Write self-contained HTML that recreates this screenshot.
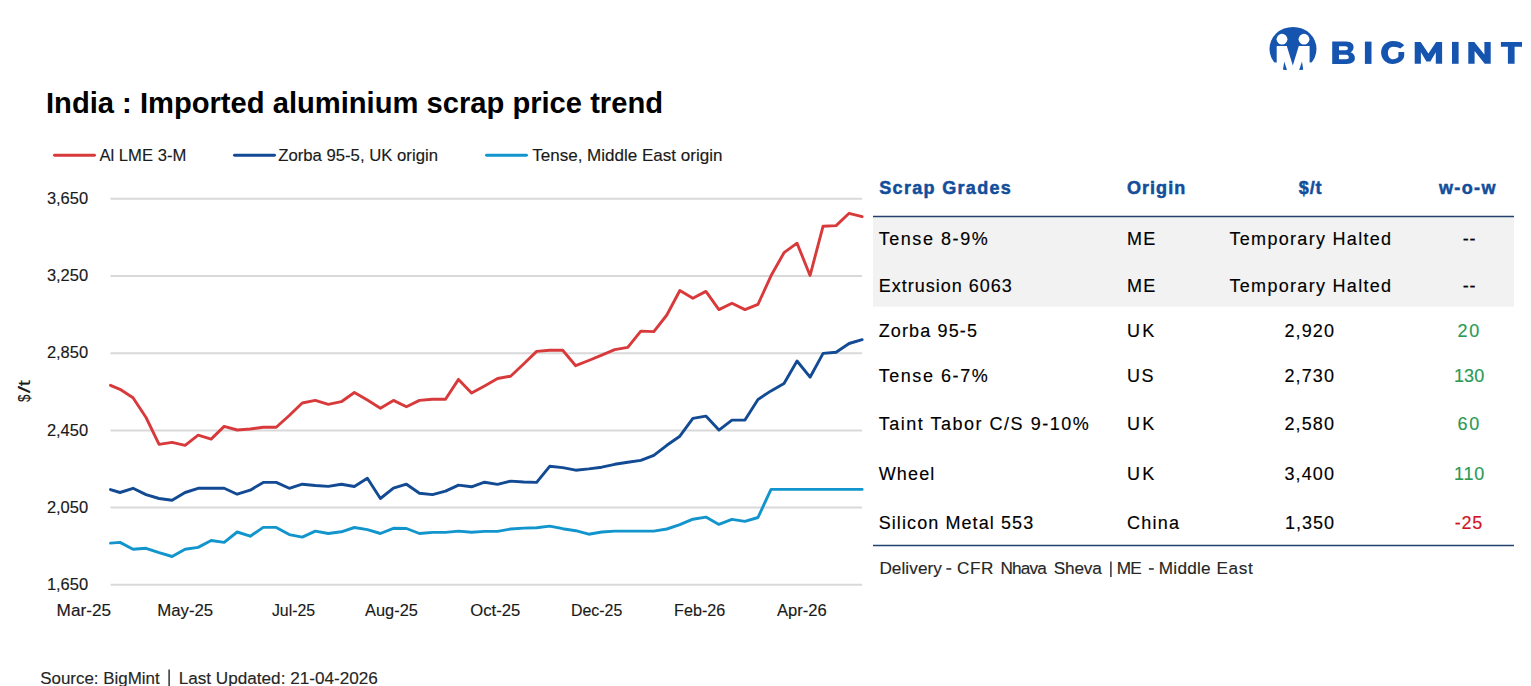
<!DOCTYPE html>
<html><head><meta charset="utf-8"><style>
html,body{margin:0;padding:0;background:#fff;width:1531px;height:686px;overflow:hidden}
svg{display:block}
text{font-family:"Liberation Sans",sans-serif}
</style></head><body>
<svg width="1531" height="686" viewBox="0 0 1531 686">
<line x1="110.5" y1="198.8" x2="862" y2="198.8" stroke="#D9D9D9" stroke-width="2"/>
<line x1="110.5" y1="276.0" x2="862" y2="276.0" stroke="#D9D9D9" stroke-width="2"/>
<line x1="110.5" y1="353.2" x2="862" y2="353.2" stroke="#D9D9D9" stroke-width="2"/>
<line x1="110.5" y1="430.4" x2="862" y2="430.4" stroke="#D9D9D9" stroke-width="2"/>
<line x1="110.5" y1="507.6" x2="862" y2="507.6" stroke="#D9D9D9" stroke-width="2"/>
<line x1="110.5" y1="584.8" x2="862" y2="584.8" stroke="#D9D9D9" stroke-width="2"/>
<polyline points="110.50,543.1 120.00,542.4 133.02,549.2 146.04,548.3 159.06,552.6 172.08,556.5 185.10,549.2 198.12,547.4 211.14,540.5 224.16,542.4 237.18,532.0 250.20,536.2 263.22,527.4 276.24,527.4 289.26,534.6 302.28,537.1 315.30,531.1 328.32,533.5 341.34,531.8 354.36,527.5 367.38,529.6 380.40,533.5 393.42,528.3 406.44,528.5 419.46,533.5 432.48,532.4 445.50,532.4 458.52,531.1 471.54,532.2 484.56,531.4 497.58,531.4 510.60,529.0 523.62,528.1 536.64,527.7 549.66,526.1 562.68,528.7 575.70,530.7 588.72,534.2 601.74,532.0 614.76,531.1 627.78,531.1 640.80,531.1 653.82,531.1 666.84,529.0 679.86,524.7 692.88,519.2 705.90,517.1 718.92,524.4 731.94,519.4 744.96,521.4 757.98,517.5 771.00,489.4 784.02,489.4 797.04,489.4 810.06,489.4 823.08,489.4 836.10,489.4 849.12,489.4 862.14,489.4" fill="none" stroke="#1295CD" stroke-width="2.9" stroke-linejoin="round" stroke-linecap="round"/>
<polyline points="110.50,489.6 120.00,492.5 133.02,488.3 146.04,494.6 159.06,498.5 172.08,500.3 185.10,492.5 198.12,488.3 211.14,488.3 224.16,488.3 237.18,494.2 250.20,490.2 263.22,482.4 276.24,482.4 289.26,488.3 302.28,484.2 315.30,485.5 328.32,486.4 341.34,484.2 354.36,486.5 367.38,478.3 380.40,498.5 393.42,488.1 406.44,484.2 419.46,493.3 432.48,494.6 445.50,491.1 458.52,485.1 471.54,486.8 484.56,482.2 497.58,484.4 510.60,481.1 523.62,482.0 536.64,482.4 549.66,466.3 562.68,467.6 575.70,470.2 588.72,468.9 601.74,467.2 614.76,464.3 627.78,462.3 640.80,460.4 653.82,455.4 666.84,445.3 679.86,436.2 692.88,418.4 705.90,416.1 718.92,430.1 731.94,420.1 744.96,420.1 757.98,399.5 771.00,390.9 784.02,383.4 797.04,361.0 810.06,377.2 823.08,353.4 836.10,352.3 849.12,343.5 862.14,339.7" fill="none" stroke="#124A93" stroke-width="2.9" stroke-linejoin="round" stroke-linecap="round"/>
<polyline points="110.50,385.3 120.00,389.3 133.02,397.8 146.04,417.5 159.06,444.4 172.08,442.4 185.10,445.3 198.12,435.2 211.14,439.1 224.16,426.4 237.18,430.0 250.20,429.0 263.22,427.3 276.24,427.3 289.26,415.5 302.28,403.0 315.30,400.4 328.32,404.3 341.34,401.7 354.36,392.5 367.38,400.1 380.40,408.2 393.42,400.4 406.44,406.7 419.46,400.4 432.48,399.3 445.50,399.3 458.52,379.4 471.54,393.1 484.56,385.9 497.58,378.5 510.60,376.2 523.62,364.0 536.64,351.4 549.66,350.3 562.68,350.3 575.70,365.7 588.72,360.5 601.74,355.2 614.76,349.6 627.78,347.4 640.80,331.1 653.82,331.6 666.84,315.0 679.86,290.5 692.88,298.2 705.90,291.4 718.92,309.6 731.94,303.3 744.96,309.6 757.98,304.3 771.00,275.8 784.02,252.7 797.04,243.2 810.06,275.5 823.08,226.2 836.10,225.6 849.12,213.3 862.14,216.7" fill="none" stroke="#D83A3C" stroke-width="2.9" stroke-linejoin="round" stroke-linecap="round"/>
<line x1="54.5" y1="155.3" x2="94.5" y2="155.3" stroke="#D83A3C" stroke-width="2.9" stroke-linecap="round"/>
<line x1="234.5" y1="155.3" x2="274.5" y2="155.3" stroke="#124A93" stroke-width="2.9" stroke-linecap="round"/>
<line x1="486.5" y1="155.3" x2="526.5" y2="155.3" stroke="#1295CD" stroke-width="2.9" stroke-linecap="round"/>
<text x="99.48" y="160.70" font-size="17.0" font-weight="normal" fill="#1A1A1A" stroke="#1A1A1A" stroke-width="0.15" stroke-linejoin="round" textLength="86.84" lengthAdjust="spacingAndGlyphs" >Al LME 3-M</text>
<text x="278.18" y="160.70" font-size="17.0" font-weight="normal" fill="#1A1A1A" stroke="#1A1A1A" stroke-width="0.15" stroke-linejoin="round" textLength="159.77" lengthAdjust="spacingAndGlyphs" >Zorba 95-5, UK origin</text>
<text x="532.18" y="160.70" font-size="17.0" font-weight="normal" fill="#1A1A1A" stroke="#1A1A1A" stroke-width="0.15" stroke-linejoin="round" textLength="190.33" lengthAdjust="spacingAndGlyphs" >Tense, Middle East origin</text>
<text x="46.00" y="113.00" font-size="30" font-weight="bold" fill="#000"  textLength="617.01" lengthAdjust="spacingAndGlyphs" >India : Imported aluminium scrap price trend</text>
<text x="46.88" y="204.00" font-size="17.0" font-weight="normal" fill="#1A1A1A" stroke="#1A1A1A" stroke-width="0.15" stroke-linejoin="round" textLength="41.24" lengthAdjust="spacingAndGlyphs" >3,650</text>
<text x="46.88" y="281.20" font-size="17.0" font-weight="normal" fill="#1A1A1A" stroke="#1A1A1A" stroke-width="0.15" stroke-linejoin="round" textLength="41.24" lengthAdjust="spacingAndGlyphs" >3,250</text>
<text x="46.88" y="358.40" font-size="17.0" font-weight="normal" fill="#1A1A1A" stroke="#1A1A1A" stroke-width="0.15" stroke-linejoin="round" textLength="41.24" lengthAdjust="spacingAndGlyphs" >2,850</text>
<text x="46.88" y="435.60" font-size="17.0" font-weight="normal" fill="#1A1A1A" stroke="#1A1A1A" stroke-width="0.15" stroke-linejoin="round" textLength="41.24" lengthAdjust="spacingAndGlyphs" >2,450</text>
<text x="46.88" y="512.80" font-size="17.0" font-weight="normal" fill="#1A1A1A" stroke="#1A1A1A" stroke-width="0.15" stroke-linejoin="round" textLength="41.24" lengthAdjust="spacingAndGlyphs" >2,050</text>
<text x="46.88" y="590.00" font-size="17.0" font-weight="normal" fill="#1A1A1A" stroke="#1A1A1A" stroke-width="0.15" stroke-linejoin="round" textLength="41.24" lengthAdjust="spacingAndGlyphs" >1,650</text>
<text x="56.58" y="615.80" font-size="17.0" font-weight="normal" fill="#1A1A1A" stroke="#1A1A1A" stroke-width="0.15" stroke-linejoin="round" textLength="54.45" lengthAdjust="spacingAndGlyphs" >Mar-25</text>
<text x="157.17" y="615.80" font-size="17.0" font-weight="normal" fill="#1A1A1A" stroke="#1A1A1A" stroke-width="0.15" stroke-linejoin="round" textLength="56.04" lengthAdjust="spacingAndGlyphs" >May-25</text>
<text x="271.88" y="615.80" font-size="17.0" font-weight="normal" fill="#1A1A1A" stroke="#1A1A1A" stroke-width="0.15" stroke-linejoin="round" textLength="43.25" lengthAdjust="spacingAndGlyphs" >Jul-25</text>
<text x="365.07" y="615.80" font-size="17.0" font-weight="normal" fill="#1A1A1A" stroke="#1A1A1A" stroke-width="0.15" stroke-linejoin="round" textLength="52.87" lengthAdjust="spacingAndGlyphs" >Aug-25</text>
<text x="470.27" y="615.80" font-size="17.0" font-weight="normal" fill="#1A1A1A" stroke="#1A1A1A" stroke-width="0.15" stroke-linejoin="round" textLength="50.07" lengthAdjust="spacingAndGlyphs" >Oct-25</text>
<text x="570.98" y="615.80" font-size="17.0" font-weight="normal" fill="#1A1A1A" stroke="#1A1A1A" stroke-width="0.15" stroke-linejoin="round" textLength="51.35" lengthAdjust="spacingAndGlyphs" >Dec-25</text>
<text x="674.08" y="615.80" font-size="17.0" font-weight="normal" fill="#1A1A1A" stroke="#1A1A1A" stroke-width="0.15" stroke-linejoin="round" textLength="51.16" lengthAdjust="spacingAndGlyphs" >Feb-26</text>
<text x="776.98" y="615.80" font-size="17.0" font-weight="normal" fill="#1A1A1A" stroke="#1A1A1A" stroke-width="0.15" stroke-linejoin="round" textLength="49.73" lengthAdjust="spacingAndGlyphs" >Apr-26</text>
<g transform="translate(30.4,402) rotate(-90)"><text x="0.07" y="0.00" font-size="17.0" font-weight="normal" fill="#1A1A1A" stroke="#1A1A1A" stroke-width="0.15" stroke-linejoin="round" textLength="7.45" lengthAdjust="spacingAndGlyphs" >$</text><text x="8.88" y="0.00" font-size="17.0" font-weight="normal" fill="#1A1A1A" stroke="#1A1A1A" stroke-width="0.15" stroke-linejoin="round" textLength="7.41" lengthAdjust="spacingAndGlyphs" >/</text><text x="15.88" y="0.00" font-size="17.0" font-weight="normal" fill="#1A1A1A" stroke="#1A1A1A" stroke-width="0.15" stroke-linejoin="round" textLength="6.08" lengthAdjust="spacingAndGlyphs" >t</text></g>
<text x="40.18" y="683.50" font-size="17.4" font-weight="normal" fill="#262626" stroke="#262626" stroke-width="0.15" stroke-linejoin="round" textLength="119.57" lengthAdjust="spacingAndGlyphs" >Source: BigMint</text>
<rect x="168.4" y="669.5" width="1.4" height="17" fill="#262626"/>
<text x="178.67" y="683.50" font-size="17.4" font-weight="normal" fill="#262626" stroke="#262626" stroke-width="0.15" stroke-linejoin="round" textLength="199.24" lengthAdjust="spacingAndGlyphs" >Last Updated: 21-04-2026</text>
<rect x="873" y="217" width="641" height="89.6" fill="#F2F2F2"/>
<line x1="873" y1="216.5" x2="1514" y2="216.5" stroke="#23426B" stroke-width="1.3"/>
<line x1="873" y1="545.5" x2="1514" y2="545.5" stroke="#23426B" stroke-width="1.3"/>
<text x="879.25" y="193.60" font-size="18.0" font-weight="bold" fill="#134E9B" stroke="#134E9B" stroke-width="0.5" letter-spacing="1.323" >Scrap Grades</text>
<text x="1127.05" y="193.60" font-size="18.0" font-weight="bold" fill="#134E9B" stroke="#134E9B" stroke-width="0.5" letter-spacing="1.020" >Origin</text>
<text x="1298.85" y="193.60" font-size="18.0" font-weight="bold" fill="#134E9B" stroke="#134E9B" stroke-width="0.5" letter-spacing="0.850" >$/t</text>
<text x="1438.95" y="193.60" font-size="18.0" font-weight="bold" fill="#134E9B" stroke="#134E9B" stroke-width="0.5" letter-spacing="1.388" >w-o-w</text>
<text x="878.68" y="245.00" font-size="18.0" font-weight="normal" fill="#000" stroke="#000" stroke-width="0.15" letter-spacing="1.556" >Tense 8-9%</text>
<text x="1127.08" y="245.00" font-size="18.0" font-weight="normal" fill="#000" stroke="#000" stroke-width="0.15" letter-spacing="1.150" >ME</text>
<text x="1229.48" y="245.00" font-size="18.0" font-weight="normal" fill="#000" stroke="#000" stroke-width="0.15" letter-spacing="1.307" >Temporary Halted</text>
<text x="1462.67" y="245.00" font-size="18.0" font-weight="normal" fill="#000" stroke="#000" stroke-width="0.15" letter-spacing="0.950" >--</text>
<text x="878.68" y="291.70" font-size="18.0" font-weight="normal" fill="#000" stroke="#000" stroke-width="0.15" letter-spacing="1.004" >Extrusion 6063</text>
<text x="1127.08" y="291.70" font-size="18.0" font-weight="normal" fill="#000" stroke="#000" stroke-width="0.15" letter-spacing="1.150" >ME</text>
<text x="1229.48" y="291.70" font-size="18.0" font-weight="normal" fill="#000" stroke="#000" stroke-width="0.15" letter-spacing="1.307" >Temporary Halted</text>
<text x="1462.67" y="291.70" font-size="18.0" font-weight="normal" fill="#000" stroke="#000" stroke-width="0.15" letter-spacing="0.950" >--</text>
<text x="878.68" y="336.60" font-size="18.0" font-weight="normal" fill="#000" stroke="#000" stroke-width="0.15" letter-spacing="1.133" >Zorba 95-5</text>
<text x="1127.08" y="336.60" font-size="18.0" font-weight="normal" fill="#000" stroke="#000" stroke-width="0.15" letter-spacing="2.150" >UK</text>
<text x="1284.38" y="336.60" font-size="18.0" font-weight="normal" fill="#000" stroke="#000" stroke-width="0.15" letter-spacing="1.125" >2,920</text>
<text x="1457.58" y="336.60" font-size="18.0" font-weight="normal" fill="#2A9A55" stroke="#2A9A55" stroke-width="0.15" letter-spacing="1.750" >20</text>
<text x="878.68" y="381.60" font-size="18.0" font-weight="normal" fill="#000" stroke="#000" stroke-width="0.15" letter-spacing="1.556" >Tense 6-7%</text>
<text x="1127.08" y="381.60" font-size="18.0" font-weight="normal" fill="#000" stroke="#000" stroke-width="0.15" letter-spacing="1.350" >US</text>
<text x="1284.38" y="381.60" font-size="18.0" font-weight="normal" fill="#000" stroke="#000" stroke-width="0.15" letter-spacing="1.125" >2,730</text>
<text x="1453.88" y="381.60" font-size="18.0" font-weight="normal" fill="#2A9A55" stroke="#2A9A55" stroke-width="0.15" letter-spacing="0.200" >130</text>
<text x="878.68" y="429.70" font-size="18.0" font-weight="normal" fill="#000" stroke="#000" stroke-width="0.15" letter-spacing="1.515" >Taint Tabor C/S 9-10%</text>
<text x="1127.08" y="429.70" font-size="18.0" font-weight="normal" fill="#000" stroke="#000" stroke-width="0.15" letter-spacing="2.150" >UK</text>
<text x="1284.38" y="429.70" font-size="18.0" font-weight="normal" fill="#000" stroke="#000" stroke-width="0.15" letter-spacing="1.125" >2,580</text>
<text x="1457.58" y="429.70" font-size="18.0" font-weight="normal" fill="#2A9A55" stroke="#2A9A55" stroke-width="0.15" letter-spacing="1.750" >60</text>
<text x="878.68" y="479.60" font-size="18.0" font-weight="normal" fill="#000" stroke="#000" stroke-width="0.15" letter-spacing="1.162" >Wheel</text>
<text x="1127.08" y="479.60" font-size="18.0" font-weight="normal" fill="#000" stroke="#000" stroke-width="0.15" letter-spacing="2.150" >UK</text>
<text x="1284.38" y="479.60" font-size="18.0" font-weight="normal" fill="#000" stroke="#000" stroke-width="0.15" letter-spacing="1.125" >3,400</text>
<text x="1453.88" y="479.60" font-size="18.0" font-weight="normal" fill="#2A9A55" stroke="#2A9A55" stroke-width="0.15" letter-spacing="0.875" >110</text>
<text x="878.68" y="528.50" font-size="18.0" font-weight="normal" fill="#000" stroke="#000" stroke-width="0.15" letter-spacing="1.091" >Silicon Metal 553</text>
<text x="1127.08" y="528.50" font-size="18.0" font-weight="normal" fill="#000" stroke="#000" stroke-width="0.15" letter-spacing="1.225" >China</text>
<text x="1285.08" y="528.50" font-size="18.0" font-weight="normal" fill="#000" stroke="#000" stroke-width="0.15" letter-spacing="0.950" >1,350</text>
<text x="1454.67" y="528.50" font-size="18.0" font-weight="normal" fill="#D0141E" stroke="#D0141E" stroke-width="0.15" letter-spacing="0.825" >-25</text>
<text x="879.38" y="574.10" font-size="17.2" font-weight="normal" fill="#262626" stroke="#262626" stroke-width="0.15" letter-spacing="0.064" >Delivery</text>
<text x="956.98" y="574.10" font-size="17.2" font-weight="normal" fill="#262626" stroke="#262626" stroke-width="0.15" letter-spacing="0.550" >CFR</text>
<text x="1000.38" y="574.10" font-size="17.2" font-weight="normal" fill="#262626" stroke="#262626" stroke-width="0.15" letter-spacing="-0.825" >Nhava</text>
<text x="1053.78" y="574.10" font-size="17.2" font-weight="normal" fill="#262626" stroke="#262626" stroke-width="0.15" letter-spacing="-0.188" >Sheva</text>
<text x="1116.67" y="574.10" font-size="17.2" font-weight="normal" fill="#262626" stroke="#262626" stroke-width="0.15" letter-spacing="-0.650" >ME</text>
<text x="1158.78" y="574.10" font-size="17.2" font-weight="normal" fill="#262626" stroke="#262626" stroke-width="0.15" letter-spacing="0.240" >Middle</text>
<text x="1216.38" y="574.10" font-size="17.2" font-weight="normal" fill="#262626" stroke="#262626" stroke-width="0.15" letter-spacing="0.650" >East</text>
<rect x="946.4" y="568.2" width="4.9" height="1.5" fill="#262626"/>
<rect x="1148.9" y="568.2" width="4.9" height="1.5" fill="#262626"/>
<rect x="1110.2" y="561.5" width="1.4" height="15.5" fill="#262626"/>
<g>
<ellipse cx="1293" cy="49" rx="23.5" ry="22.1" fill="#1655AF"/>
<circle cx="1282" cy="39.2" r="5.4" fill="#fff"/>
<circle cx="1304" cy="39.2" r="5.4" fill="#fff"/>
<path d="M1276.7,46.1 L1286.8,46.1 L1292.8,65.5 L1298.8,46.1 L1309.6,46.1 L1309.6,62.4 L1320,62.4 L1320,76 L1266,76 L1266,62.4 L1276.7,62.4 Z" fill="#fff"/>
<path d="M1284.2,61.6 L1283,69.8 L1287,70 Z" fill="#1655AF"/>
<path d="M1302,61.6 L1303.2,69.8 L1299.2,70 Z" fill="#1655AF"/>
</g>
<g fill="#1655AF">
<path fill-rule="evenodd" d="M1332.2,41.4 H1346.2 C1351.4,41.4 1353.6,44.2 1353.6,46.9 C1353.6,49.4 1352.3,51.2 1350.4,52.2 C1353.2,53 1354.9,55.3 1354.9,58 C1354.9,61.6 1352,63.9 1346.6,63.9 H1332.2 Z M1339,46.3 H1345.4 C1347.2,46.3 1347.9,47.3 1347.9,48.3 C1347.9,49.4 1347.2,50.3 1345.4,50.3 H1339 Z M1339,54.7 H1346 C1348,54.7 1348.8,55.8 1348.8,57 C1348.8,58.3 1348,59.3 1346,59.3 H1339 Z"/>
<rect x="1364.9" y="41.6" width="6.6" height="22.3"/>
<path d="M1404.2,45.3 C1402,42.3 1397.8,40.9 1392.65,40.9 C1386.2,40.9 1381.1,46 1381.1,52.45 C1381.1,58.9 1386.2,64 1392.65,64 C1398.5,64 1404.2,60 1404.2,55.5 L1404.2,52.1 L1398.4,52.1 L1398.4,56.8 C1397.2,58.4 1395.3,59.3 1393,59.3 C1390,59.3 1387.9,56.5 1387.9,53 C1387.9,49.5 1390,46.7 1393,46.7 C1396.3,46.7 1399,47.5 1400.3,48.6 Z"/>
<path d="M1414.7,63.8 L1414.7,41.9 L1420.7,41.9 L1428.4,53.6 L1436.1,41.9 L1442.1,41.9 L1442.1,63.8 L1435.8,63.8 L1435.8,52.2 L1430.4,61.6 L1426.4,61.6 L1420.9,52.2 L1420.9,63.8 Z"/>
<rect x="1452" y="41.9" width="6.6" height="21.9"/>
<path d="M1468.3,63.8 L1468.3,41.9 L1474.3,41.9 L1484.4,54.6 L1484.4,41.9 L1490.7,41.9 L1490.7,63.8 L1484.7,63.8 L1474.6,51.1 L1474.6,63.8 Z"/>
<path d="M1500.9,41.9 H1522 V46.8 H1514.6 V63.8 H1507.9 V46.8 H1500.9 Z"/>
</g>
</svg>
</body></html>
